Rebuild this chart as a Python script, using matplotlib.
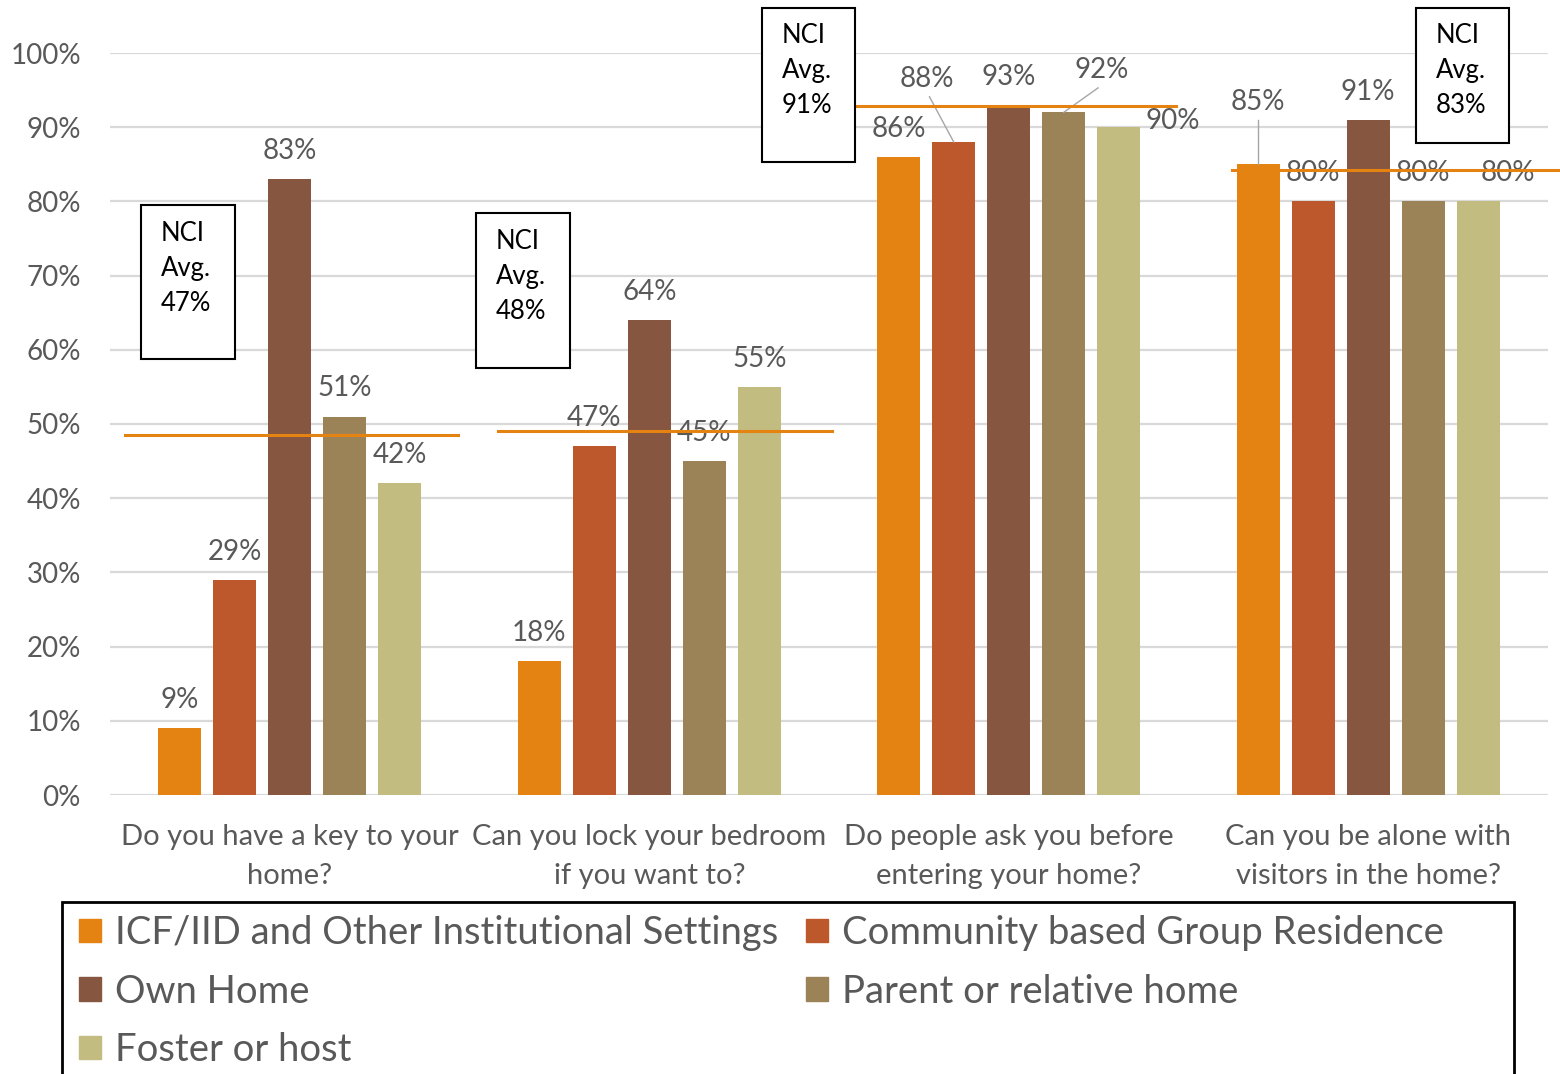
import numpy as np
import matplotlib.pyplot as plt
from matplotlib.patches import Rectangle, Patch

plt.rcParams['font.family'] = ['Lato', 'DejaVu Sans']

categories = ['Do you have a key to your\nhome?',
              'Can you lock your bedroom\nif you want to?',
              'Do people ask you before\nentering your home?',
              'Can you be alone with\nvisitors in the home?']
series = ['ICF/IID and Other Institutional Settings', 'Community based Group Residence',
          'Own Home', 'Parent or relative home', 'Foster or host']
colors = ['#E48312', '#BD582C', '#865640', '#9B8357', '#C2BC80']

icf = [9, 18, 86, 85]
community = [29, 47, 88, 80]
own_home = [83, 64, 93, 91]
parent = [51, 45, 92, 80]
foster = [42, 55, 90, 80]
values = [icf, community, own_home, parent, foster]

nci_labels = ['47%', '48%', '91%', '83%']
# where the orange NCI lines sit in the picture (they are drawn shapes)
nci_line_y = [48.5, 49.0, 92.9, 84.2]
nci_line_x = [(-0.458, 0.468), (0.579, 1.508), (1.539, 2.465), (2.621, 3.533)]

# box: (left, right, bottom, top) in data units, relative to group centre
nci_boxes = [(-0.414, -0.152, 58.8, 79.5), (-0.482, -0.220, 57.6, 78.4),
             (-0.686, -0.428, 85.3, 106.1), (0.133, 0.392, 87.9, 106.1)]

gray = '#595959'
bw = 0.12
step = 0.153
lab_dy = 3.8

# label offsets (group, series): (dx, dy, leader)
label_off = {(2, 1): (-0.075, 8.5, True), (2, 3): (0.106, 5.7, True),
             (2, 4): (0.150, 0.8, False), (3, 0): (0.0, 8.4, True),
             (3, 4): (0.083, lab_dy, False)}

fig = plt.figure(figsize=(15.6, 10.74), dpi=100)
ax = fig.add_axes([110 / 1560, 1 - 795 / 1074, 1438 / 1560, 742 / 1074])

x = np.arange(len(categories))
for k, (name, vals, c) in enumerate(zip(series, values, colors)):
    xs = x + (k - 2) * step
    ax.bar(xs, vals, width=bw, color=c, label=name, zorder=2)
    for g, (xi, v) in enumerate(zip(xs, vals)):
        dx, dy, leader = label_off.get((g, k), (0.0, lab_dy, False))
        ax.text(xi + dx, v + dy, f'{v}%', ha='center', va='center',
                fontsize=20, color=gray, zorder=4, clip_on=False)
        if leader:
            ax.plot([xi + dx * 0.9, xi], [v + dy - 2.4, v], color='#A6A6A6', lw=1,
                    zorder=3, clip_on=False)

for g in range(len(categories)):
    x0, x1 = nci_line_x[g]
    ax.plot([x0, x1], [nci_line_y[g]] * 2, color='#E48312', lw=2.2, zorder=5,
            clip_on=False)
    l, r, b, t = nci_boxes[g]
    ax.add_patch(Rectangle((g + l, b), r - l, t - b, facecolor='white',
                           edgecolor='black', lw=1.5, zorder=6, clip_on=False))
    for i, line in enumerate(['NCI', 'Avg.', nci_labels[g]]):
        ax.text(g + l + 0.055, t - 3.8 - i * 4.72, line, ha='left', va='center',
                fontsize=18.5, color='black', zorder=7, clip_on=False)

ax.set_xlim(-0.5, 3.5)
ax.set_ylim(0, 100)
ax.set_yticks(range(0, 101, 10))
ax.set_yticklabels([f'{t}%' for t in range(0, 101, 10)])
ax.set_xticks(x)
ax.set_xticklabels(categories, linespacing=1.6)
ax.tick_params(axis='y', length=0, pad=21, labelsize=20, labelcolor=gray)
ax.tick_params(axis='x', length=0, pad=21, labelsize=21, labelcolor=gray)
ax.grid(axis='y', color='#D9D9D9', lw=1.6, zorder=0)
ax.set_axisbelow(True)
for s in ax.spines.values():
    s.set_visible(False)

# legend frame (it runs off the bottom of the picture)
fig.patches.append(Rectangle((62 / 1560, -0.05), (1514 - 62) / 1560, 0.05 + (1074 - 902) / 1074,
                             transform=fig.transFigure, facecolor='none',
                             edgecolor='black', lw=2))

h = [Patch(color=c) for c in colors]
leg_kw = dict(frameon=False, fontsize=27.5, handlelength=0.58, handleheight=0.58,
              handletextpad=0.35, labelspacing=0.59, labelcolor=gray, borderaxespad=0,
              borderpad=0)
fig.legend([h[0], h[2], h[4]], [series[0], series[2], series[4]], loc='upper left',
           bbox_to_anchor=(79 / 1560, 1 - 915 / 1074), **leg_kw)
fig.legend([h[1], h[3]], [series[1], series[3]], loc='upper left',
           bbox_to_anchor=(806 / 1560, 1 - 915 / 1074), **leg_kw)

fig.savefig('out.png', dpi=100)
